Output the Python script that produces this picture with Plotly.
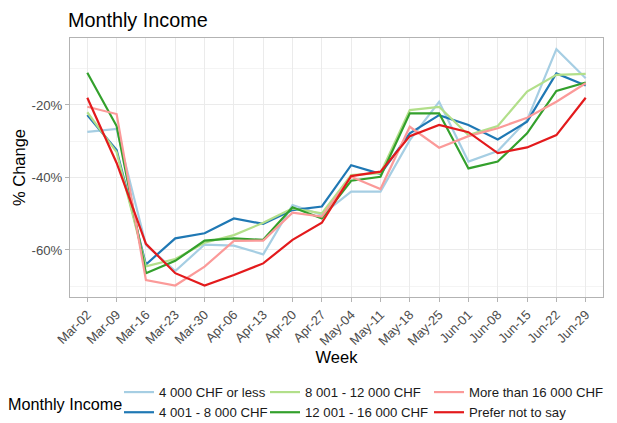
import plotly.graph_objects as go

weeks = ["Mar-02", "Mar-09", "Mar-16", "Mar-23", "Mar-30", "Apr-06", "Apr-13",
         "Apr-20", "Apr-27", "May-04", "May-11", "May-18", "May-25", "Jun-01",
         "Jun-08", "Jun-15", "Jun-22", "Jun-29"]

income_groups = ["4 000 CHF or less", "4 001 - 8 000 CHF", "8 001 - 12 000 CHF",
                 "12 001 - 16 000 CHF", "More than 16 000 CHF", "Prefer not to say"]

chf_4000_or_less = [-27.4, -26.6, -58.6, -65.8, -58.5, -58.8, -61.2, -47.6, -50.3,
                    -43.9, -43.9, -29.7, -19.1, -35.6, -32.7, -24.2, -4.6, -12.6]
chf_4001_8000 = [-22.8, -32.4, -64.0, -56.8, -55.4, -51.3, -52.8, -49.0, -48.0,
                 -36.6, -39.0, -27.8, -22.8, -25.5, -29.5, -24.6, -11.3, -14.6]
chf_8001_12000 = [-22.0, -33.0, -64.5, -62.5, -58.0, -55.9, -52.5, -48.5, -49.9,
                  -39.3, -38.8, -21.4, -20.5, -28.3, -25.8, -16.3, -11.7, -11.4]
chf_12001_16000 = [-11.1, -25.8, -66.4, -63.0, -57.4, -56.8, -57.2, -48.2, -51.3,
                   -40.9, -39.8, -22.3, -22.3, -37.5, -35.6, -27.8, -16.1, -13.8]
chf_more_16000 = [-20.5, -22.5, -68.3, -69.8, -64.6, -57.5, -57.4, -49.7, -50.8,
                  -39.8, -43.2, -26.0, -31.8, -28.6, -26.4, -23.5, -19.1, -14.0]
prefer_not_say = [-18.0, -36.0, -58.3, -66.4, -69.8, -66.9, -63.7, -57.2, -52.5,
                  -39.6, -38.4, -28.6, -25.5, -27.5, -33.3, -31.7, -28.3, -18.0]

series_values = [chf_4000_or_less, chf_4001_8000, chf_8001_12000,
                 chf_12001_16000, chf_more_16000, prefer_not_say]

y_tick_values = [-60, -40, -20]
y_tick_labels = ["-60%", "-40%", "-20%"]
y_minor_values = [-70, -50, -30, -10]

colors = ["#A6CEE3", "#1F78B4", "#B2DF8A", "#33A02C", "#FB9A99", "#E31A1C"]
legend_ids = ["legend", "legend", "legend2", "legend2", "legend3", "legend3"]

# The page body adds an 8px offset; the figure is sized so it ends at the window edge.
OFF = 8
W, H = 617 - OFF, 423 - OFF
# plot area in window pixels: x 70..603, y 38..297
PX0, PX1, PY0, PY1 = 70, 603, 38, 297
L, R, T, B = PX0 - OFF, W - (PX1 - OFF), PY0 - OFF, H - (PY1 - OFF)
pw, ph = PX1 - PX0, PY1 - PY0


def fx(p):
    return (p - PX0) / pw


def fy(p):
    return (PY1 - p) / ph


FONT = "Liberation Sans, Arial, Helvetica, sans-serif"

fig = go.Figure()
for name, vals, col, lg in zip(income_groups, series_values, colors, legend_ids):
    fig.add_trace(go.Scatter(x=weeks, y=vals, mode="lines", name=name,
                             line=dict(color=col, width=2.2), legend=lg))

leg_common = dict(orientation="v", xanchor="left", yanchor="top",
                  bgcolor="rgba(0,0,0,0)", font=dict(size=13.2, color="#1A1A1A", family=FONT),
                  tracegroupgap=0)

LEG_TOP = 377

fig.update_layout(
    width=W, height=H,
    margin=dict(l=L, r=R, t=T, b=B, autoexpand=False),
    paper_bgcolor="white", plot_bgcolor="white",
    font=dict(family=FONT, color="#000000"),
    title=dict(text="Monthly Income", font=dict(size=19.8, color="#000000", family=FONT),
               xref="container", yref="container", x=(68 - OFF) / W, xanchor="left",
               y=1 - (20 - OFF) / H, yanchor="middle", pad=dict(l=0, r=0, t=0, b=0)),
    legend=dict(x=fx(119), y=fy(LEG_TOP), **leg_common),
    legend2=dict(x=fx(265), y=fy(LEG_TOP), **leg_common),
    legend3=dict(x=fx(429), y=fy(LEG_TOP), **leg_common),
    xaxis=dict(type="category", range=[-0.59, 17.59],
               tickangle=-45, tickfont=dict(size=13, color="#4D4D4D"),
               ticks="outside", ticklen=4, tickcolor="#B3B3B3",
               showgrid=True, gridcolor="#EBEBEB", gridwidth=1,
               showline=True, linecolor="#B3B3B3", linewidth=1, mirror=True,
               zeroline=False,
               title=dict(text="Week", font=dict(size=16.5, color="#000000"), standoff=0)),
    yaxis=dict(range=[-72.97, -1.52], tickmode="array", tickvals=y_tick_values,
               ticktext=y_tick_labels, tickfont=dict(size=13.2, color="#4D4D4D"),
               ticks="outside", ticklen=4, tickcolor="#B3B3B3",
               showgrid=True, gridcolor="#EBEBEB", gridwidth=1,
               minor=dict(tickmode="array", tickvals=y_minor_values, showgrid=True,
                          gridcolor="#F4F4F4", gridwidth=1, ticks=""),
               showline=True, linecolor="#B3B3B3", linewidth=1, mirror=True,
               zeroline=False,
               title=dict(text="% Change", font=dict(size=16.5, color="#000000"), standoff=1)),
    annotations=[dict(text="Monthly Income", xref="paper", yref="paper",
                      x=fx(6), y=fy(404), xanchor="left", yanchor="middle",
                      showarrow=False, font=dict(size=16.2, color="#000000", family=FONT))],
    shapes=[dict(type="rect", xref="paper", yref="paper",
                 x0=fx(-10), x1=fx(1.7), y0=fy(292.5), y1=fy(37.5),
                 line=dict(color="#A0A0A0", width=1), fillcolor="rgba(0,0,0,0)")],
    showlegend=True,
)

fig.write_html("out.html")
